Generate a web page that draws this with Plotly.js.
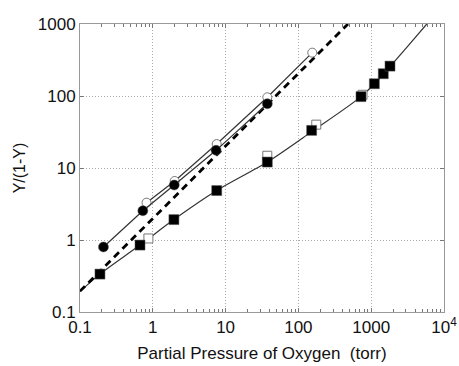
<!DOCTYPE html>
<html>
<head>
<meta charset="utf-8">
<script src="https://cdn.plot.ly/plotly-3.0.1.min.js"></script>
<style>html,body{margin:0;padding:0;background:#fff;}#chart{width:459px;height:366px;}</style>
</head>
<body>
<div id="chart"></div>
<script>
// Filled circles
const filledCircleX = [0.21, 0.73, 1.97, 7.4, 37.4];
const filledCircleY = [0.8, 2.55, 5.8, 17.6, 78];
// Open circles
const openCircleX = [0.82, 2.0, 7.55, 37.4, 155];
const openCircleY = [3.3, 6.6, 21.5, 96, 400];
// Filled squares
const filledSquareX = [0.188, 0.667, 1.95, 7.55, 37.4, 152, 724, 1105, 1466, 1811];
const filledSquareY = [0.336, 0.85, 1.92, 4.86, 12.1, 33.3, 98, 148, 204, 260];
// Open squares
const openSquareX = [0.87, 37.4, 176, 760];
const openSquareY = [1.05, 14.8, 40, 104];
// Fitted curve through squares
const fitX = [0.1, 0.188, 0.667, 1.95, 7.55, 37.4, 152, 724, 1500, 3000, 5800];
const fitY = [0.193, 0.336, 0.85, 1.92, 4.86, 12.1, 32, 98, 205, 460, 1000];
// Dashed reference line
const dashX = [0.1, 480];
const dashY = [0.195, 1000];

const xTickVals = [0.1, 1, 10, 100, 1000, 10000];
const xTickText = ['0.1', '1', '10', '100', '1000', '10<sup>4</sup>'];
const yTickVals = [0.1, 1, 10, 100, 1000];
const yTickText = ['0.1', '1', '10', '100', '1000'];

const lineCol = '#333';
const fontFam = 'Liberation Sans, Arial, sans-serif';
const traces = [
  {x: fitX, y: fitY, mode: 'lines', line: {color: lineCol, width: 1.2, shape: 'spline', smoothing: 0.8}},
  {x: dashX, y: dashY, mode: 'lines', line: {color: '#000', width: 2.8, dash: '7px,5px'}},
  {x: openCircleX, y: openCircleY, mode: 'lines+markers', line: {color: lineCol, width: 1.2},
   marker: {symbol: 'circle', size: 9, color: '#fff', line: {color: '#777', width: 1}}},
  {x: filledCircleX, y: filledCircleY, mode: 'lines+markers', line: {color: lineCol, width: 1.2},
   marker: {symbol: 'circle', size: 10, color: '#000', line: {color: '#555', width: 0.5}}},
  {x: openSquareX, y: openSquareY, mode: 'markers',
   marker: {symbol: 'square', size: 9, color: '#fff', line: {color: '#777', width: 1}}},
  {x: filledSquareX, y: filledSquareY, mode: 'markers',
   marker: {symbol: 'square', size: 10, color: '#000', line: {color: '#555', width: 0.5}}}
];

const axisCommon = {
  type: 'log', showline: true, linecolor: '#999', linewidth: 1, mirror: 'ticks',
  ticks: 'inside', ticklen: 4, tickcolor: '#777', showgrid: true,
  gridcolor: '#aaa', griddash: '1px,2px', gridwidth: 1, zeroline: false,
  tickfont: {family: fontFam, size: 17, color: '#111'}
};

const layout = {
  width: 459, height: 366,
  margin: {l: 80, r: 15, t: 23.5, b: 54},
  paper_bgcolor: '#fff', plot_bgcolor: '#fff',
  showlegend: false,
  xaxis: Object.assign({}, axisCommon, {
    range: [-1, 4], tickmode: 'array', tickvals: xTickVals, ticktext: xTickText,
    minor: {ticks: 'inside', ticklen: 3, tickcolor: '#777', dtick: 'D1', showgrid: false},
    title: {text: 'Partial Pressure of Oxygen  (torr)', standoff: 10,
      font: {family: fontFam, size: 17, color: '#111'}}
  }),
  yaxis: Object.assign({}, axisCommon, {
    range: [-1, 3], tickmode: 'array', tickvals: yTickVals, ticktext: yTickText,
    title: {text: 'Y/(1-Y)', standoff: 8,
      font: {family: fontFam, size: 16, color: '#111'}}
  })
};

Plotly.newPlot('chart', traces, layout, {staticPlot: true, displayModeBar: false});
</script>
</body>
</html>
